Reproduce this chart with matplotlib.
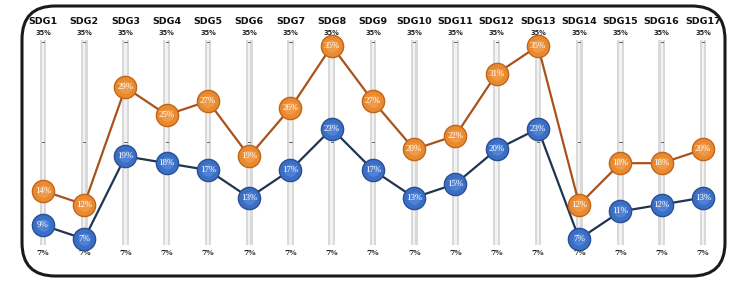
import matplotlib
matplotlib.use("Agg")
import matplotlib.pyplot as plt
from matplotlib.patches import FancyBboxPatch

goals = ["SDG%d" % i for i in range(1, 18)]
orange_vals = [14, 12, 29, 25, 27, 19, 26, 35, 27, 20, 22, 31, 35, 12, 18, 18, 20]
blue_vals = [9, 7, 19, 18, 17, 13, 17, 23, 17, 13, 15, 20, 23, 7, 11, 12, 13]
top_label = "35%"
bottom_label = "7%"
vmax, vmin = 35, 7

fig = plt.figure(figsize=(7.39, 2.92), dpi=100)
ax = fig.add_axes([0, 0, 1, 1])
ax.set_xlim(-1.042, 16.873)
ax.set_ylim(-0.69, 41.67)
ax.axis("off")

# rounded frame
box = FancyBboxPatch((22 / 739, 16 / 292), 703 / 739, 270 / 292,
                     boxstyle="round,pad=0,rounding_size=0.045",
                     transform=fig.transFigure, fill=False, lw=2.2,
                     ec="#1a1a1a", mutation_aspect=739 / 292)
fig.patches.append(box)

xs = list(range(len(goals)))

# gray slider bars
ax.bar(xs, vmax + 0.9 - 6.2, bottom=6.2, width=0.16, color="#d9d9d9", zorder=1)
ax.bar(xs, vmax + 0.9 - 6.2, bottom=6.2, width=0.06, color="#f2f2f2", zorder=1)
for x in xs:
    for v in (vmax + 0.6, (vmax + vmin) / 2):
        ax.plot([x - 0.025, x + 0.025], [v, v], color="#666666", lw=0.7, zorder=2)
    ax.text(x, 38.6, goals[x], ha="center", va="center", fontsize=6.8,
            fontweight="bold", family="DejaVu Sans", color="#111111")
    ax.text(x, 36.9, top_label, ha="center", va="center", fontsize=4.8,
            fontweight="bold", color="#222222")
    ax.text(x, 5.0, bottom_label, ha="center", va="center", fontsize=5.5,
            fontweight="bold", family="DejaVu Serif", color="#222222")

# lines and markers
ax.plot(xs, orange_vals, color="#a9521c", lw=1.6, zorder=3)
ax.plot(xs, blue_vals, color="#1f3550", lw=1.6, zorder=3)
ax.plot(xs, orange_vals, "o", ms=16, mfc="#ea8a2f", mec="#c0651c", mew=1.0, zorder=4)
ax.plot(xs, blue_vals, "o", ms=16, mfc="#3b6fc6", mec="#2a4f92", mew=1.0, zorder=4)
# soft highlight
ax.plot(xs, orange_vals, "o", ms=9, mfc="#f4a65a", mec="none", alpha=0.6, zorder=5)
ax.plot(xs, blue_vals, "o", ms=9, mfc="#5d8ee0", mec="none", alpha=0.6, zorder=5)

for x, v in zip(xs, orange_vals):
    ax.text(x, v, "%d%%" % v, ha="center", va="center", fontsize=6.5,
            family="Liberation Serif", color="white", zorder=6)
for x, v in zip(xs, blue_vals):
    ax.text(x, v, "%d%%" % v, ha="center", va="center", fontsize=6.5,
            family="Liberation Serif", color="white", zorder=6)

fig.savefig("out.png", dpi=100)
